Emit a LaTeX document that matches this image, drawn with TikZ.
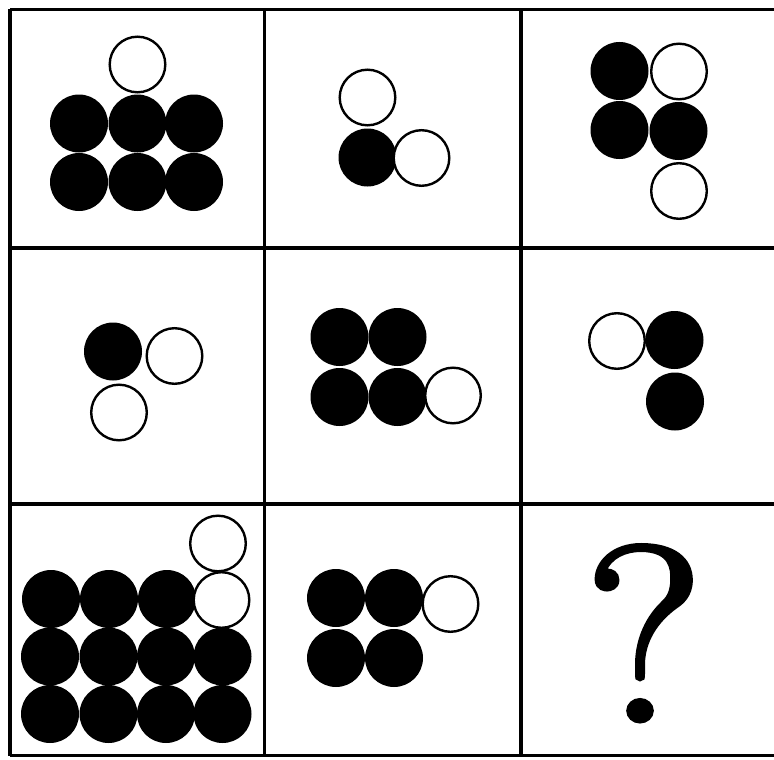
\documentclass[tikz,border=0pt]{standalone}
\usepackage{fontspec}
\newfontfamily\qfont{Latin Modern Roman}[FakeBold=2,FakeStretch=1.1]
\begin{document}
\begin{tikzpicture}[x=1pt,y=-1pt,
  gridline/.style={line width=3.4pt,black},
  blackdot/.style={fill=black},
  opendot/.style={draw=black,fill=white,line width=2.4pt}]
\useasboundingbox (0,0) rectangle (774,760);
\fill[white] (0,0) rectangle (774,760);
% grid
\draw[gridline] (10,9.5) -- (778,9.5);
\draw[gridline] (10,248) -- (778,248);
\draw[gridline] (10,504) -- (778,504);
\draw[gridline] (10,755.5) -- (778,755.5);
\draw[gridline] (10,9.5) -- (10,755.5);
\draw[gridline] (264.5,9.5) -- (264.5,755.5);
\draw[gridline] (521,9.5) -- (521,755.5);
\def\R{29}
\def\r{27.8}
% cell 1
\foreach \x in {79,137.5,194}{\fill[blackdot] (\x,123.5) circle (\R); \fill[blackdot] (\x,182) circle (\R);}
\draw[opendot] (137.5,64.5) circle (\r);
% cell 2
\fill[blackdot] (367.5,157.5) circle (\R);
\draw[opendot] (367.5,97.5) circle (\r);
\draw[opendot] (421.5,158) circle (\r);
% cell 3
\fill[blackdot] (619.5,71) circle (\R);
\fill[blackdot] (619.5,130) circle (\R);
\fill[blackdot] (678.5,131) circle (\R);
\draw[opendot] (679,71.5) circle (\r);
\draw[opendot] (679,191) circle (\r);
% cell 4
\fill[blackdot] (113,351.5) circle (\R);
\draw[opendot] (174.5,356) circle (\r);
\draw[opendot] (119,412.5) circle (\r);
% cell 5
\foreach \x in {339.5,397.5}{\fill[blackdot] (\x,337) circle (\R); \fill[blackdot] (\x,397) circle (\R);}
\draw[opendot] (453,395.5) circle (\r);
% cell 6
\draw[opendot] (617,341) circle (\r);
\fill[blackdot] (674.5,340) circle (\R);
\fill[blackdot] (675,401.5) circle (\R);
% cell 7
\foreach \x in {51,109,167}{\fill[blackdot] (\x,599) circle (\R);}
\foreach \x in {50,108.5,166,222.5}{\fill[blackdot] (\x,656.5) circle (\R); \fill[blackdot] (\x,714) circle (\R);}
\draw[opendot] (218,543.5) circle (\r);
\draw[opendot] (221.5,600) circle (\r);
% cell 8
\foreach \x in {336,394}{\fill[blackdot] (\x,598) circle (\R); \fill[blackdot] (\x,658) circle (\R);}
\draw[opendot] (450.5,604) circle (\r);
% cell 9
\node[inner sep=0pt,anchor=base] (q) at (644,721) {\qfont\fontsize{250}{250}\selectfont ?};
\end{tikzpicture}
\end{document}
